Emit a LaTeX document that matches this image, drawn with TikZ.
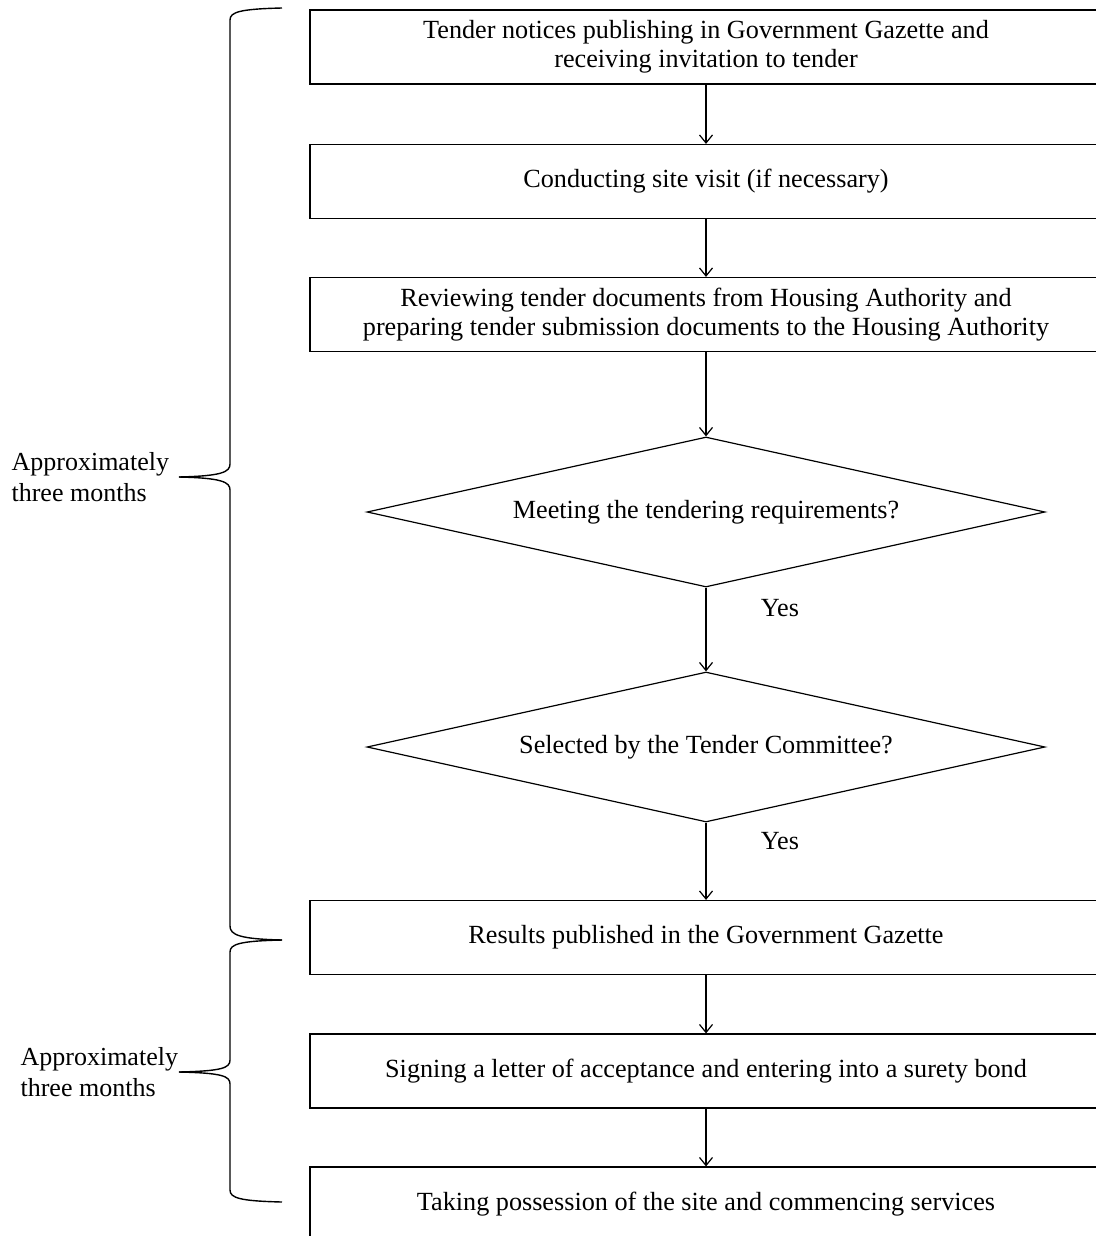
\documentclass[tikz,border=0pt]{standalone}
\usepackage{fontspec}
\setmainfont{Liberation Serif}
\usetikzlibrary{shapes.geometric,arrows.meta}
\begin{document}
\begin{tikzpicture}[x=0.5pt,y=-0.5pt,
  line width=0.6pt,
  every node/.style={font=\fontsize{13.1}{14.5}\selectfont},
  stepbox/.style={draw, rectangle, minimum width=396pt, minimum height=37pt, inner sep=0pt, align=center},
  decision/.style={draw, diamond, shape aspect=4.52, minimum width=339pt, minimum height=75pt, inner sep=0pt, align=center},
  flow/.style={-{Straight Barb[length=4pt,width=6.5pt]}},
  brace/.style={line width=0.7pt},
  sidelabel/.style={anchor=west, align=left, inner sep=0pt, font=\fontsize{13}{15.5}\selectfont},
  yeslabel/.style={inner sep=0pt}]
\useasboundingbox (0,0) rectangle (1096,1236);
\clip (0,0) rectangle (1096,1236);
\fill[white] (0,0) rectangle (1096,1236);

\node[stepbox] (b1) at (706,47) {Tender notices publishing in Government Gazette and\\receiving invitation to tender};
\node[stepbox] (b2) at (706,181.5) {Conducting site visit (if necessary)};
\node[stepbox] (b3) at (706,314.5) {Reviewing tender documents from Housing Authority and\\preparing tender submission documents to the Housing Authority};
\node[decision] (d1) at (706,512) {Meeting the tendering requirements?};
\node[decision] (d2) at (706,747) {Selected by the Tender Committee?};
\node[stepbox] (b4) at (706,937.5) {Results published in the Government Gazette};
\node[stepbox] (b5) at (706,1071) {Signing a letter of acceptance and entering into a surety bond};
\node[stepbox] (b6) at (706,1204) {Taking possession of the site and commencing services};

\draw[flow] (b1) -- (b2);
\draw[flow] (b2) -- (b3);
\draw[flow] (b3) -- (d1);
\draw[flow] (d1) -- (d2);
\draw[flow] (d2) -- (b4);
\draw[flow] (b4) -- (b5);
\draw[flow] (b5) -- (b6);

\node[yeslabel] (y1) at (780,608) {Yes};
\node[yeslabel] (y2) at (780,841) {Yes};

% braces
\draw[brace] (282,8) .. controls (240,9) and (230,12) .. (230,20) -- (230,464)
  .. controls (230,472) and (222,476) .. (179,477);
\draw[brace] (179,477) .. controls (222,478) and (230,482) .. (230,490) -- (230,926)
  .. controls (230,935) and (240,939) .. (282,940);
\draw[brace] (282,940) .. controls (240,941) and (230,944) .. (230,952) -- (230,1060)
  .. controls (230,1068) and (222,1071) .. (179,1072);
\draw[brace] (179,1072) .. controls (222,1073) and (230,1076) .. (230,1084) -- (230,1190)
  .. controls (230,1198) and (240,1201) .. (282,1202);

\node[sidelabel] (l1) at (11,477) {Approximately\\three months};
\node[sidelabel] (l2) at (20,1072) {Approximately\\three months};
\end{tikzpicture}
\end{document}
